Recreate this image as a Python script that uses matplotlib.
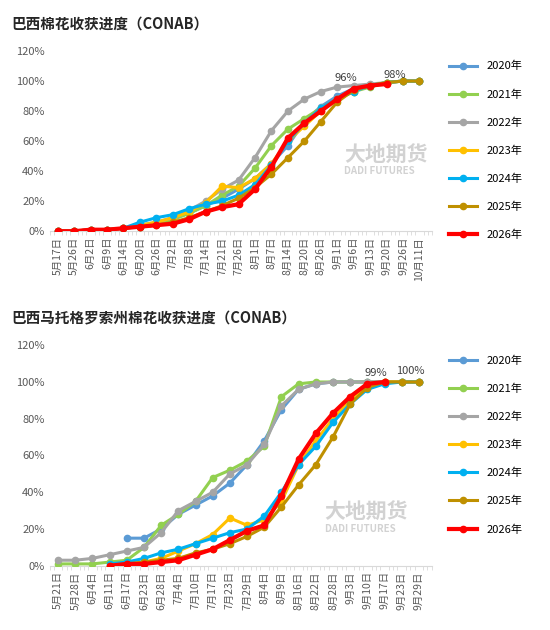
import numpy as np
import matplotlib
matplotlib.use("Agg")
import matplotlib.pyplot as plt
from matplotlib.ticker import PercentFormatter, MultipleLocator

plt.rcParams['font.family'] = ['Noto Sans CJK SC', 'DejaVu Sans']

nan = np.nan
top_labels = ["5月17日","5月26日","6月2日","6月9日","6月14日","6月20日","6月26日","7月2日","7月8日","7月14日",
              "7月21日","7月26日","8月1日","8月7日","8月14日","8月20日","8月26日","9月1日","9月6日","9月13日",
              "9月20日","9月26日","10月11日"]
years = ["2020年","2021年","2022年","2023年","2024年","2025年","2026年"]
colors = ["#5B9BD5","#92D050","#A5A5A5","#FFC000","#00B0F0","#BF9000","#FF0000"]

top_2020 = [0,0,1,1,2,3,5,8,12,17,22,28,35,45,57,73,83,90,95,97,99,100,100]
top_2021 = [0,0,1,1,2,3,5,8,12,17,24,30,42,57,68,75,82,88,93,96,99,100,100]
top_2022 = [0,0,1,1,2,4,6,9,14,20,28,34,49,67,80,88,93,96,97,98,99,100,100]
top_2023 = [0,0,1,1,2,4,6,9,13,19,30,29,35,45,60,70,80,88,93,97,99,100,100]
top_2024 = [0,0,1,1,2,6,9,11,15,18,20,24,31,44,60,72,82,88,93,97,99,100,100]
top_2025 = [0,0,1,1,2,3,4,6,9,13,17,22,29,38,49,60,73,86,94,97,99,100,100]
top_2026 = [0,0,1,1,2,3,4,5,8,13,16,18,28,43,62,72,80,88,95,97,98,nan,nan]

bot_labels = ["5月21日","5月28日","6月4日","6月11日","6月17日","6月23日","6月28日","7月4日","7月10日","7月17日",
              "7月23日","7月29日","8月4日","8月9日","8月16日","8月22日","8月28日","9月3日","9月10日","9月17日",
              "9月23日","9月29日"]
bot_2020 = [nan,nan,nan,nan,15,15,20,28,33,38,45,55,68,85,96,99,100,100,100,100,100,100]
bot_2021 = [1,1,1,2,3,10,22,28,35,48,52,57,65,92,99,100,100,100,100,100,100,100]
bot_2022 = [3,3,4,6,8,10,18,30,35,40,50,55,66,87,96,99,100,100,100,100,100,100]
bot_2023 = [nan,nan,nan,0,1,2,4,8,12,17,26,22,25,35,55,68,80,90,98,100,100,100]
bot_2024 = [nan,nan,nan,1,2,4,7,9,12,15,18,20,27,40,55,65,78,88,96,99,100,100]
bot_2025 = [nan,nan,nan,0,1,2,3,4,7,9,12,16,21,32,44,55,70,88,97,100,100,100]
bot_2026 = [nan,nan,nan,0,1,1,2,3,6,9,14,19,22,38,58,72,83,92,99,100,nan,nan]

fig = plt.figure(figsize=(5.5, 6.3), dpi=100)

def panel(rect, title, labels, series, ann, wm):
    ax = fig.add_axes(rect)
    x = np.arange(len(labels))
    for s, c, y in zip(series, colors, years):
        lw = 3 if y == "2026年" else 2.2
        ax.plot(x, np.array(s) / 100, color=c, lw=lw, marker='o', ms=4.5, label=y,
                zorder=5 if y == "2026年" else 3)
    ax.set_ylim(0, 1.2)
    ax.set_xlim(-0.3, len(labels) - 0.7)
    ax.yaxis.set_major_locator(MultipleLocator(0.2))
    ax.yaxis.set_major_formatter(PercentFormatter(1.0, decimals=0))
    ax.set_xticks(x)
    ax.set_xticklabels(labels, rotation=90, fontsize=7.5, color="#595959")
    ax.tick_params(axis='y', labelsize=8, colors="#595959", length=0)
    ax.tick_params(axis='x', length=0, pad=4)
    ax.set_xticks(np.arange(-0.5, len(labels), 0.25), minor=True)
    ax.tick_params(axis='x', which='minor', length=3, color="#D9D9D9")
    for sp in ["top", "right", "left"]:
        ax.spines[sp].set_visible(False)
    ax.spines["bottom"].set_color("#D9D9D9")
    ax.text(wm[0], wm[1], "大地期货", transform=ax.transAxes, fontsize=15,
            color="#BFBFBF", alpha=0.7, ha="left", va="bottom", fontweight="bold", zorder=1)
    ax.text(wm[0], wm[1] - 0.01, "DADI FUTURES", transform=ax.transAxes, fontsize=7,
            color="#BFBFBF", alpha=0.7, ha="left", va="top", fontweight="bold", zorder=1)
    for (xi, yi, t) in ann:
        ax.text(xi, yi / 100 + 0.03, t, fontsize=8, color="#404040", ha="center", va="bottom")
    fig.text(0.02, rect[1] + rect[3] + 0.035, title, fontsize=10.5, fontweight="bold", color="#262626")
    ax.legend(loc="upper left", bbox_to_anchor=(1.02, 1.0), frameon=False, fontsize=8,
              labelspacing=1.6, handlelength=2.5)
    return ax

panel([0.09, 0.633, 0.695, 0.286], "巴西棉花收获进度（CONAB）",
      top_labels, [top_2020, top_2021, top_2022, top_2023, top_2024, top_2025, top_2026],
      [(17.5, 96, "96%"), (20.5, 98, "98%")], (0.77, 0.37))
panel([0.09, 0.102, 0.695, 0.35], "巴西马托格罗索州棉花收获进度（CONAB）",
      bot_labels, [bot_2020, bot_2021, bot_2022, bot_2023, bot_2024, bot_2025, bot_2026],
      [(18.5, 99, "99%"), (20.5, 100, "100%")], (0.72, 0.2))

fig.savefig("out.png", dpi=100)
